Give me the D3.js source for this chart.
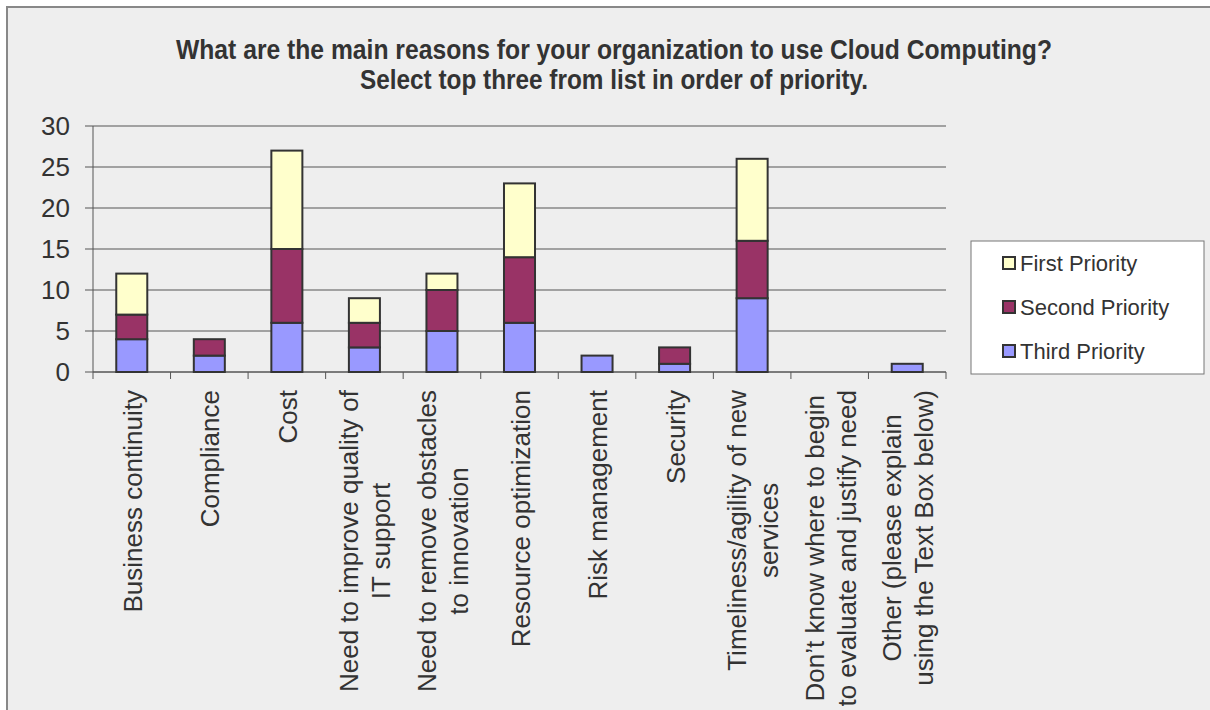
<!DOCTYPE html>
<html>
<head>
<meta charset="utf-8">
<script src="https://cdn.jsdelivr.net/npm/d3@7"></script>
<style>
  html, body { margin: 0; padding: 0; background: #ffffff; }
  svg { display: block; }
  text { font-family: "Liberation Sans", Arial, sans-serif; fill: #333333; }
</style>
</head>
<body>
<svg id="chart" width="1210" height="710"></svg>
<script>
const titleLines = [
  "What are the main reasons for your organization to use Cloud Computing?",
  "Select top three from list in order of priority."
];
const categories = [
  "Business continuity",
  "Compliance",
  "Cost",
  "Need to improve quality of\nIT support",
  "Need to remove obstacles\nto innovation",
  "Resource optimization",
  "Risk management",
  "Security",
  "Timeliness/agility of new\nservices",
  "Don\u2019t know where to begin\nto evaluate and justify need",
  "Other (please explain\nusing the Text Box below)"
];
const seriesNames = ["Third Priority", "Second Priority", "First Priority"];
const thirdPriority  = [4, 2, 6, 3, 5, 6, 2, 1, 9, 0, 1];
const secondPriority = [3, 2, 9, 3, 5, 8, 0, 2, 7, 0, 0];
const firstPriority  = [5, 0, 12, 3, 2, 9, 0, 0, 10, 0, 0];
const yTicks = [0, 5, 10, 15, 20, 25, 30];
const colors = ["#9999ff", "#993366", "#ffffcc"];
const legendOrder = ["First Priority", "Second Priority", "Third Priority"];

const svg = d3.select("#chart");

// outer chart area
svg.append("rect")
  .attr("x", 7).attr("y", 7).attr("width", 1220).attr("height", 720)
  .attr("fill", "#eeeeee").attr("stroke", "#888888").attr("stroke-width", 2);

// title
const titleY = [59, 89];
const titleW = [876, 508];
titleLines.forEach((t, i) => {
  svg.append("text")
    .attr("x", 614).attr("y", titleY[i])
    .attr("text-anchor", "middle")
    .attr("font-size", 28).attr("font-weight", "bold")
    .attr("textLength", titleW[i]).attr("lengthAdjust", "spacingAndGlyphs")
    .style("fill", "#333333")
    .text(t);
});

const plot = { left: 93, right: 946, top: 126, bottom: 372 };
const x = d3.scaleBand().domain(categories).range([plot.left, plot.right]).padding(0);
const y = d3.scaleLinear().domain([0, 30]).range([plot.bottom, plot.top]);

// gridlines
svg.append("g").selectAll("line").data(yTicks).join("line")
  .attr("x1", plot.left - 8).attr("x2", plot.right)
  .attr("y1", d => y(d)).attr("y2", d => y(d))
  .attr("stroke", "#555555").attr("stroke-width", 1);

// y axis line
svg.append("line")
  .attr("x1", plot.left).attr("x2", plot.left)
  .attr("y1", plot.top).attr("y2", plot.bottom)
  .attr("stroke", "#555555").attr("stroke-width", 1);

// y tick labels
svg.append("g").selectAll("text").data(yTicks).join("text")
  .attr("x", 70).attr("y", d => y(d))
  .attr("dy", "0.35em")
  .attr("text-anchor", "end")
  .attr("font-size", 26)
  .text(d => d);

// x axis with ticks at category boundaries
const boundaries = categories.map(c => x(c)).concat([plot.right]);
svg.append("line")
  .attr("x1", plot.left).attr("x2", plot.right)
  .attr("y1", plot.bottom).attr("y2", plot.bottom)
  .attr("stroke", "#555555").attr("stroke-width", 1);
svg.append("g").selectAll("line").data(boundaries).join("line")
  .attr("x1", d => d).attr("x2", d => d)
  .attr("y1", plot.bottom).attr("y2", plot.bottom + 7)
  .attr("stroke", "#555555").attr("stroke-width", 1);

// stacked data
const rows = categories.map((c, i) => ({
  cat: c,
  "Third Priority": thirdPriority[i],
  "Second Priority": secondPriority[i],
  "First Priority": firstPriority[i]
}));
const stack = d3.stack().keys(seriesNames)(rows);
const barW = x.bandwidth() * 0.4;

stack.forEach((layer, li) => {
  svg.append("g").selectAll("rect")
    .data(layer.filter(d => d[1] - d[0] > 0))
    .join("rect")
    .attr("x", d => x(d.data.cat) + (x.bandwidth() - barW) / 2)
    .attr("y", d => y(d[1]))
    .attr("width", barW)
    .attr("height", d => y(d[0]) - y(d[1]))
    .attr("fill", colors[li])
    .attr("stroke", "#333333")
    .attr("stroke-width", 2);
});

// x labels rotated
categories.forEach(c => {
  const lines = c.split("\n");
  const cx = x(c) + x.bandwidth() / 2;
  const g = svg.append("g").attr("transform", `translate(${cx},390) rotate(-90)`);
  const texts = lines.map((ln, i) => g.append("text")
    .attr("font-size", 26)
    .attr("text-anchor", "middle")
    .attr("y", 10 + (i - (lines.length - 1) / 2) * 32)
    .text(ln));
  const maxW = d3.max(texts, t => t.node().getComputedTextLength());
  texts.forEach(t => t.attr("x", -maxW / 2));
});

// legend
const lg = svg.append("g");
lg.append("rect")
  .attr("x", 971).attr("y", 241).attr("width", 233).attr("height", 133)
  .attr("fill", "#ffffff").attr("stroke", "#777777").attr("stroke-width", 1);
legendOrder.forEach((name, i) => {
  const cy = 263 + i * 44;
  const ci = seriesNames.indexOf(name);
  lg.append("rect")
    .attr("x", 1003).attr("y", cy - 6).attr("width", 12).attr("height", 12)
    .attr("fill", colors[ci]).attr("stroke", "#333333").attr("stroke-width", 2);
  lg.append("text")
    .attr("x", 1020).attr("y", cy).attr("dy", "0.35em")
    .attr("font-size", 22)
    .text(name);
});
</script>
</body>
</html>
